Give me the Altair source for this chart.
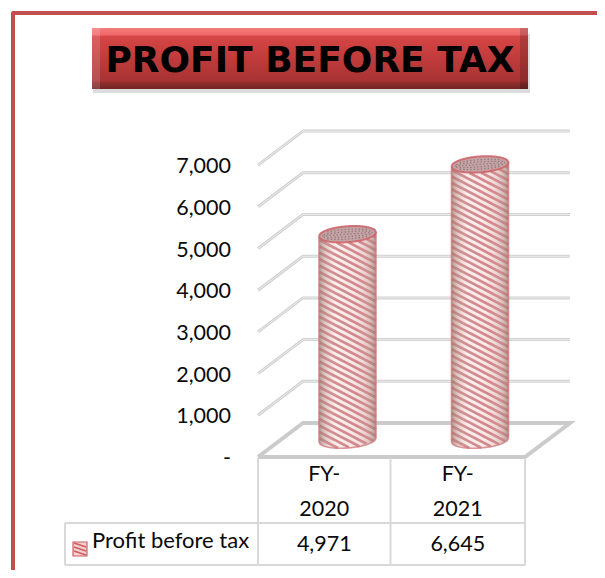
import altair as alt
import pandas as pd

# ---- chart content
CATEGORIES = ["FY-2020", "FY-2021"]
PROFIT = [4971, 6645]
TICKS = [0, 1000, 2000, 3000, 4000, 5000, 6000, 7000]
SERIES = "Profit before tax"
TITLE = "PROFIT BEFORE TAX"

FONT = "Lato"
W, H = 589, 562
PX = 1 / 0.0417          # value units per pixel
Y0 = 449                 # plot-pixel row of value 0 on the front edge
DEPTH_X, DEPTH_Y = 45, 34
LEFT, RIGHT = 250, 517   # front floor edge (x scale units)
CX = [339.5, 472]
RX, RY = 28.5, 8
TILT = 0.07


def val(py):
    """value-axis position of a plot row"""
    return (Y0 - py) * PX


sx = alt.Scale(domain=[0, W], range=[0, W], nice=False, zero=False)
sy = alt.Scale(domain=[val(H), val(0)], range=[H, 0], nice=False, zero=False)
X = alt.X("x:Q", scale=sx, axis=None)
Y = alt.Y("y:Q", scale=sy, axis=None)
Y2 = alt.Y2("y2:Q")
X2 = alt.X2("x2:Q")


def grad(stops, horizontal=True):
    return alt.LinearGradient(
        gradient="linear",
        x1=0, y1=0, x2=1 if horizontal else 0, y2=0 if horizontal else 1,
        stops=[alt.GradientStop(offset=o, color=c) for o, c in stops],
    )


def lines(rows, color, width, **kw):
    return alt.Chart(pd.DataFrame(rows)).mark_line(
        color=color, strokeWidth=width, interpolate="linear", **kw
    ).encode(x=X, y=Y, detail="k:N", order="o:Q")


def poly(k, pts):
    return [{"k": k, "o": i, "x": x, "y": y} for i, (x, y) in enumerate(pts)]


def label(rows, size=21.5, **kw):
    return alt.Chart(pd.DataFrame(rows)).mark_text(
        font=FONT, fontSize=size, color="#0a0a0a", baseline="middle", **kw
    ).encode(x=X, y=Y, text="t:N")


layers = []

# outer frame
frame = poly("f", [(5, val(H)), (5, val(5)), (W, val(5))])
layers.append(lines(frame, "#c0504d", 4, strokeJoin="round"))

# title box with bevel
box = dict(x=84, x2=520, y=val(20), y2=val(81))
shadow = dict(x=85, x2=522, y=val(26), y2=val(85))
layers.append(alt.Chart(pd.DataFrame([shadow])).mark_rect(color="#c4c4c4", opacity=0.6)
              .encode(x=X, x2=X2, y=Y, y2=Y2))
layers.append(alt.Chart(pd.DataFrame([box])).mark_rect(
    color=grad([(0, "#f47c7c"), (0.11, "#ef6a68"), (0.14, "#d64545"), (0.55, "#bd3a3a"),
                (0.87, "#a83333"), (0.9, "#8f2d2d"), (1, "#6f2525")], horizontal=False)
).encode(x=X, x2=X2, y=Y, y2=Y2))
layers.append(alt.Chart(pd.DataFrame([box])).mark_rect(
    color=grad([(0, "rgba(255,255,255,0.14)"), (0.018, "rgba(255,255,255,0.14)"),
                (0.019, "rgba(255,255,255,0)"), (0.981, "rgba(0,0,0,0)"),
                (0.982, "rgba(0,0,0,0.16)"), (1, "rgba(0,0,0,0.16)")])
).encode(x=X, x2=X2, y=Y, y2=Y2))
layers.append(alt.Chart(pd.DataFrame([{"x": 302, "y": val(53), "t": TITLE}])).mark_text(
    font="DejaVu Sans", fontSize=36, fontWeight="bold", color="#000000", baseline="middle", align="center"
).encode(x=X, y=Y, text="t:N"))

# back wall / side wall gridlines, from the tick values
grid = []
for t in TICKS[1:]:
    grid += poly(f"g{t}", [(LEFT, t), (LEFT + DEPTH_X, t + DEPTH_Y * PX), (LEFT + DEPTH_X + 267, t + DEPTH_Y * PX)])
layers.append(lines(grid, "#d0d0d0", 3, strokeJoin="round"))
layers.append(lines(grid, "#ececec", 1, strokeJoin="round"))

# floor
floor = poly("floor", [(LEFT, 0), (LEFT + DEPTH_X, DEPTH_Y * PX), (LEFT + DEPTH_X + 267, DEPTH_Y * PX),
                       (RIGHT, 0), (LEFT, 0)])
layers.append(lines(floor, "#cbcbcb", 4, strokeJoin="miter"))

# cylinders, derived from the series values
base_v = DEPTH_Y / 2 * PX
for cx, v, cat in zip(CX, PROFIT, CATEGORIES):
    xs = [cx - RX + i * RX / 24 for i in range(49)]
    top_c = v + base_v - 1.5 * PX
    low = [max(0.0, 1 - ((x - cx) / RX) ** 2) ** 0.5 * RY * PX for x in xs]
    tilt = [(x - cx) * TILT * PX for x in xs]
    body = pd.DataFrame({"x": xs,
                         "y": [top_c - l + t for l, t in zip(low, tilt)],
                         "y2": [base_v - l + t for l, t in zip(low, tilt)]})
    layers.append(alt.Chart(body).mark_area(
        orient="vertical",
        color=grad([(0, "#e6c9c8"), (0.3, "#fdeeee"), (0.6, "#fbe6e6"), (1, "#e2c2c0")])
    ).encode(x=X, y=Y, y2=Y2))

    # hatching
    rows = []
    slope = 0.52
    period = 6.4
    py_top = Y0 - top_c / PX
    py_bot = Y0 - base_v / PX
    n = int((py_bot - py_top + 4 * RY + 2 * RX * slope) / period) + 3
    for s in range(n):
        y_start = py_top - 2 * RY - 2 * RX * slope + s * period
        o = 0
        for x, l, t in zip(xs, low, tilt):
            py = y_start + slope * (x - xs[0])
            shift = (l - t) / PX
            if py_top + shift <= py <= py_bot + shift:
                rows.append({"k": f"{s}", "o": o, "x": x, "y": val(py)})
                o += 1
    layers.append(lines(rows, "#cf8487", 2.7, strokeCap="butt"))

    # side shading on top of hatching
    layers.append(alt.Chart(body).mark_area(
        orient="vertical",
        color=grad([(0, "rgba(140,115,100,0.6)"), (0.1, "rgba(170,150,140,0.25)"), (0.28, "rgba(255,255,255,0.08)"),
                    (0.7, "rgba(255,255,255,0.04)"), (0.9, "rgba(170,150,140,0.25)"), (1, "rgba(140,115,100,0.6)")])
    ).encode(x=X, y=Y, y2=Y2))

    # outline (sides + bottom)
    outline = poly("o", [(xs[0], top_c + tilt[0])] + [(x, base_v - l + t) for x, l, t in zip(xs, low, tilt)]
                   + [(xs[-1], top_c + tilt[-1])])
    layers.append(lines(outline, "#cf7c80", 1.6, opacity=0.8))

    # top ellipse
    top = pd.DataFrame({"x": xs, "y": [top_c + l + t for l, t in zip(low, tilt)],
                        "y2": [top_c - l + t for l, t in zip(low, tilt)]})
    layers.append(alt.Chart(top).mark_area(orient="vertical", color="#c4a3a4").encode(x=X, y=Y, y2=Y2))
    # stipple on the cap
    stip = []
    for j, f in enumerate([-0.6, -0.3, 0.0, 0.3, 0.6]):
        pts = [(x, top_c + f * l + t) for x, l, t in zip(xs, low, tilt) if abs(x - cx) < RX * 0.9 * (1 - f * f) ** 0.5]
        stip += poly(f"st{j}", pts)
    layers.append(lines(stip, "#96787a", 1.3, strokeDash=[1.3, 2.2]))
    ell = poly("e", [(x, top_c + l + t) for x, l, t in zip(xs, low, tilt)]
               + [(x, top_c - l + t) for x, l, t in zip(xs[::-1], low[::-1], tilt[::-1])])
    layers.append(lines(ell, "#cd6267", 2, opacity=0.85))

# data table grid
T1, T2, T3 = 458 - 8, 523 - 8, 565 - 8
TABLE_L = 57
MID = (LEFT + RIGHT) / 2 - 1
tbl = (poly("a", [(LEFT, val(T1)), (LEFT, val(T3))]) + poly("b", [(MID, val(T1)), (MID, val(T3))])
       + poly("c", [(RIGHT, val(T1)), (RIGHT, val(T3))]) + poly("d", [(TABLE_L, val(T2)), (RIGHT, val(T2))])
       + poly("e", [(TABLE_L, val(T3)), (RIGHT, val(T3))]) + poly("f", [(TABLE_L, val(T2)), (TABLE_L, val(T3))]))
layers.append(lines(tbl, "#d9d9d9", 2))

# y tick labels
tick_rows = [{"x": 223, "y": t, "t": "-" if t == 0 else f"{t:,}"} for t in TICKS]
layers.append(label(tick_rows, align="right", dy=2))

# table text
cat_rows = []
val_rows = []
for cx, cat, v in zip([(LEFT + MID) / 2, (MID + RIGHT) / 2], CATEGORIES, PROFIT):
    a, b = cat.split("-")
    cat_rows.append({"x": cx, "y": val(475 - 8), "t": a + "-"})
    cat_rows.append({"x": cx, "y": val(510 - 8), "t": b})
    val_rows.append({"x": cx, "y": val(545 - 8), "t": f"{v:,}"})
layers.append(label(cat_rows, align="center"))
layers.append(label(val_rows, align="center"))

# legend swatch and label
sw = dict(x=65, x2=79, y=val(534), y2=val(548))
layers.append(alt.Chart(pd.DataFrame([sw])).mark_rect(
    color="#f3d0d0", stroke="#cf5f63", strokeWidth=1.2).encode(x=X, x2=X2, y=Y, y2=Y2))
sw_h = []
for i in range(3):
    y0 = 535 + i * 4
    sw_h += poly(f"s{i}", [(66, val(y0)), (78, val(y0 + 4))])
layers.append(lines(sw_h, "#cf5f63", 1.4))
layers.append(label([{"x": 84, "y": val(533), "t": SERIES}], size=22, align="left"))

chart = alt.layer(*layers).properties(
    width=W, height=H, padding=0, background="#ffffff",
    autosize=alt.AutoSizeParams(type="none")
).configure_view(stroke=None)

chart.save("out.html", embed_options={"renderer": "svg", "actions": False})
